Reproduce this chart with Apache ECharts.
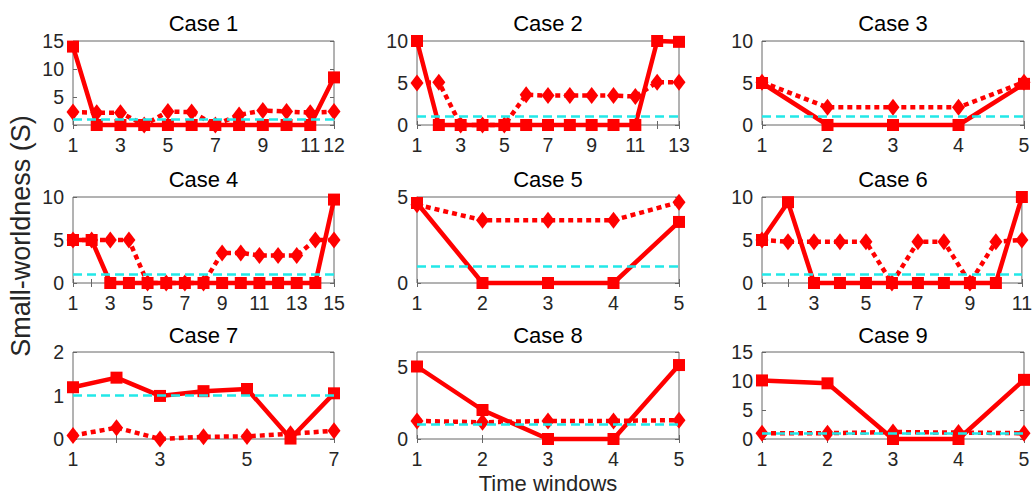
<!DOCTYPE html>
<html><head><meta charset="utf-8">
<script src="https://cdn.jsdelivr.net/npm/echarts@6/dist/echarts.min.js"></script>
<style>html,body{margin:0;padding:0;background:#fff}#c{width:1035px;height:495px}</style>
</head><body><div id="c"></div>
<script>
// ---- data ----
const caseTitles = ['Case 1','Case 2','Case 3','Case 4','Case 5','Case 6','Case 7','Case 8','Case 9'];
const case1Squares  = [14, 0, 0, 0, 0, 0, 0, 0, 0, 0, 0, 8.5];
const case1Diamonds = [2.3, 2.2, 2.2, 0, 2.4, 2.3, 0, 1.8, 2.6, 2.4, 2.2, 2.4];
const case2Squares  = [10, 0, 0, 0, 0, 0, 0, 0, 0, 0, 0, 10, 9.9];
const case2Diamonds = [5.0, 5.1, 0, 0, 0, 3.6, 3.5, 3.5, 3.5, 3.5, 3.4, 5.1, 5.1];
const case3Squares  = [5.0, 0, 0, 0, 4.9];
const case3Diamonds = [5.1, 2.1, 2.1, 2.1, 5.1];
const case4Squares  = [5, 5, 0, 0, 0, 0, 0, 0, 0, 0, 0, 0, 0, 0, 9.7];
const case4Diamonds = [5, 5, 5, 5, 0, 0, 0, 0, 3.5, 3.5, 3.2, 3.2, 3.2, 5, 5];
const case5Squares  = [4.65, 0, 0, 0, 3.55];
const case5Diamonds = [4.55, 3.65, 3.65, 3.65, 4.7];
const case6Squares  = [5, 9.4, 0, 0, 0, 0, 0, 0, 0, 0, 10];
const case6Diamonds = [5, 4.8, 4.8, 4.8, 4.8, 0, 4.8, 4.8, 0, 4.8, 5];
const case7Squares  = [1.19, 1.41, 0.99, 1.10, 1.15, 0.01, 1.05];
const case7Diamonds = [0.08, 0.26, 0, 0.05, 0.06, 0.12, 0.19];
const case8Squares  = [5.0, 2.0, 0, 0, 5.1];
const case8Diamonds = [1.25, 1.15, 1.25, 1.25, 1.3];
const case9Squares  = [10.1, 9.6, 0, 0, 10.2];
const case9Diamonds = [1.0, 1.0, 1.2, 1.1, 1.0];
const thresholdValue = 1;
const yMaxima   = [15, 10, 10, 10, 5, 10, 2, 6, 15];
const yTickStep = [5, 5, 5, 5, 5, 5, 1, 5, 5];
const xLabelStep = [2, 2, 1, 2, 1, 2, 2, 1, 1];
const yAxisTitle = 'Small-worldness (S)';
const xAxisTitle = 'Time windows';

const squaresAll  = [case1Squares, case2Squares, case3Squares, case4Squares, case5Squares, case6Squares, case7Squares, case8Squares, case9Squares];
const diamondsAll = [case1Diamonds, case2Diamonds, case3Diamonds, case4Diamonds, case5Diamonds, case6Diamonds, case7Diamonds, case8Diamonds, case9Diamonds];

// ---- layout ----
const colLeft = [73, 417, 762], colWidth = [261, 262, 262];
const rowTop = [41, 197, 352], rowHeight = [84, 86, 87];
const FONT = '"Liberation Sans", Arial, Helvetica, sans-serif';
const AX = '#666666', TXT = '#262626', RED = '#FF0000', CYAN = '#22E8E8';

const grids = [], xAxes = [], yAxes = [], series = [], titles = [];
for (let i = 0; i < 9; i++) {
  const r = Math.floor(i / 3), c = i % 3;
  const n = squaresAll[i].length;
  grids.push({left: colLeft[c], top: rowTop[r], width: colWidth[c], height: rowHeight[r],
    show: true, borderColor: AX, borderWidth: 1, containLabel: false});
  const step = xLabelStep[i];
  const xBase = {gridIndex: i, type: 'value', min: 1, max: n, interval: 1,
    axisLine: {show: false}, splitLine: {show: false},
    axisTick: {show: true, inside: true, length: 4, lineStyle: {color: AX, width: 1}}};
  xAxes.push(Object.assign({}, xBase, {position: 'bottom',
    axisLabel: {show: true, margin: 10, color: TXT, fontSize: 19.5, fontFamily: FONT,
      formatter: v => (Number.isInteger(v) && ((v - 1) % step === 0 || v === n)) ? String(v) : ''}}));
  xAxes.push(Object.assign({}, xBase, {position: 'top', axisLabel: {show: false}}));
  const ys = yTickStep[i];
  const yBase = {gridIndex: i, type: 'value', min: 0, max: yMaxima[i], interval: ys,
    axisLine: {show: false}, splitLine: {show: false},
    axisTick: {show: true, inside: true, length: 4, lineStyle: {color: AX, width: 1}}};
  yAxes.push(Object.assign({}, yBase, {position: 'left',
    axisLabel: {show: true, margin: 9, color: TXT, fontSize: 19.5, fontFamily: FONT, showMaxLabel: yMaxima[i] % ys === 0,
      formatter: v => (Math.abs(v / ys - Math.round(v / ys)) < 1e-9) ? String(v) : ''}}));
  yAxes.push(Object.assign({}, yBase, {position: 'right', axisLabel: {show: false}}));

  const sq = squaresAll[i].map((v, k) => [k + 1, v]);
  const di = diamondsAll[i].map((v, k) => [k + 1, v]);
  series.push({type: 'line', xAxisIndex: 2 * i, yAxisIndex: 2 * i, data: sq,
    symbol: 'rect', symbolSize: 12, clip: false, z: 3,
    lineStyle: {color: RED, width: 4.5}, itemStyle: {color: RED}});
  series.push({type: 'line', xAxisIndex: 2 * i, yAxisIndex: 2 * i, data: di,
    symbol: 'diamond', symbolSize: [13, 17], clip: false, z: 4,
    lineStyle: {color: RED, width: 4.5, type: [5, 4], cap: 'butt'}, itemStyle: {color: RED},
    markLine: {silent: true, symbol: 'none', label: {show: false}, animation: false,
      lineStyle: {color: CYAN, width: 2.5, type: [9, 5]}, data: [{yAxis: thresholdValue}]}});
  titles.push({text: caseTitles[i], left: colLeft[c] + colWidth[c] / 2, textAlign: 'center',
    top: (r === 0 ? 12 : r === 1 ? 168 : 324), padding: 0,
    textStyle: {fontSize: 22, fontWeight: 'normal', color: '#000', fontFamily: FONT, lineHeight: 22}});
}

const chart = echarts.init(document.getElementById('c'), null, {renderer: 'svg'});
chart.setOption({
  animation: false,
  backgroundColor: '#fff',
  title: titles,
  grid: grids, xAxis: xAxes, yAxis: yAxes, series: series,
  graphic: [
    {type: 'text', x: 21, y: 236, rotation: Math.PI / 2,
      style: {text: yAxisTitle, fontSize: 27, fontFamily: FONT, fill: TXT, align: 'center', verticalAlign: 'middle'}},
    {type: 'text', x: 548, y: 483,
      style: {text: xAxisTitle, fontSize: 22, fontFamily: FONT, fill: TXT, align: 'center', verticalAlign: 'middle'}}
  ]
});
</script></body></html>
